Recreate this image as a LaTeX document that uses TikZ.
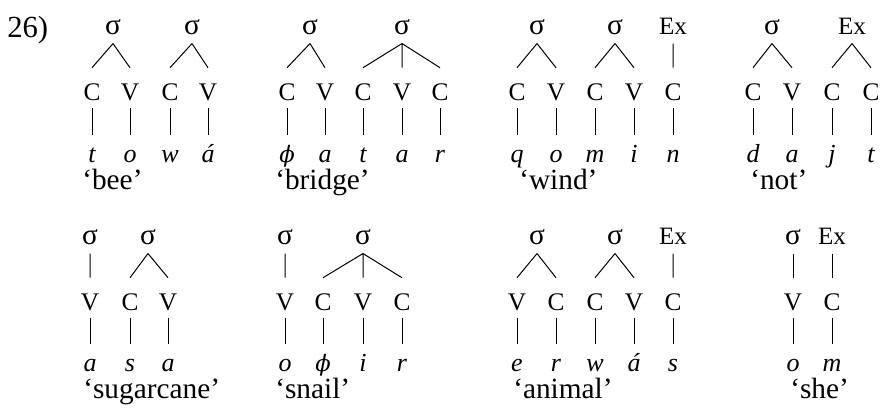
\documentclass[tikz,border=0pt]{standalone}
\usepackage{amsmath}
\usepackage{fontspec}
\setmainfont{Liberation Serif}
\newfontfamily\phifont{DejaVu Serif}

\newcommand{\syl}{{\fontsize{22}{24}\selectfont σ}}
\newcommand{\phiseg}{{\phifont\fontsize{17}{20}\selectfont ϕ}}

\tikzset{
  tier/.style={inner sep=0pt, minimum height=25.9pt, text height=12.4pt, text depth=0pt, font=\fontsize{18.75}{20}\selectfont},
  skel/.style={inner sep=0pt, minimum height=30pt, text height=18pt, text depth=0pt, font=\fontsize{19}{20}\selectfont},
  seg/.style={anchor=base, inner sep=0pt, text height=13.5pt, text depth=3.5pt, font=\fontsize{19.5}{20}\selectfont\itshape},
  gloss/.style={anchor=base west, inner sep=0pt, font=\fontsize{22}{24}\selectfont},
  exnum/.style={anchor=base west, inner sep=0pt, font=\fontsize{23}{24}\selectfont},
  assoc/.style={line width=0.75pt},
  tolink/.style={assoc, shorten >=6.75pt}
}

\begin{document}
\begin{tikzpicture}[x=0.75pt,y=0.75pt,yscale=-1,xscale=1]
  \useasboundingbox (0,0) rectangle (880,407);

  % Example number
  \node[exnum] (num) at (7,37) {26)};

  % 'bee'
  \node[tier] (bee-s1) at (113,26) {\syl};
  \node[tier] (bee-s2) at (192,26) {\syl};
  \node[skel] (bee-k1) at (92,88) {C};
  \node[skel] (bee-k2) at (130,88) {V};
  \node[skel] (bee-k3) at (170,88) {C};
  \node[skel] (bee-k4) at (208,88) {V};
  \node[seg] (bee-m1) at (92,162) {t};
  \node[seg] (bee-m2) at (130,162) {o};
  \node[seg] (bee-m3) at (170,162) {w};
  \node[seg] (bee-m4) at (208,162) {á};
  \node[gloss] (bee-g) at (82,189) {‘bee’};
  \draw[assoc] (bee-s1.south) -- (bee-k1.north) (bee-s1.south) -- (bee-k2.north)
    (bee-s2.south) -- (bee-k3.north) (bee-s2.south) -- (bee-k4.north);
  \foreach \i in {1,...,4} \draw[tolink] (bee-k\i) -- (bee-m\i);

  % 'bridge'
  \node[tier] (bri-s1) at (310,26) {\syl};
  \node[tier] (bri-s2) at (402,26) {\syl};
  \node[skel] (bri-k1) at (287,88) {C};
  \node[skel] (bri-k2) at (325,88) {V};
  \node[skel] (bri-k3) at (363,88) {C};
  \node[skel] (bri-k4) at (402,88) {V};
  \node[skel] (bri-k5) at (440,88) {C};
  \node[seg] (bri-m1) at (287,162) {\phiseg};
  \node[seg] (bri-m2) at (325,162) {a};
  \node[seg] (bri-m3) at (363,162) {t};
  \node[seg] (bri-m4) at (402,162) {a};
  \node[seg] (bri-m5) at (440,162) {r};
  \node[gloss] (bri-g) at (275,189) {‘bridge’};
  \draw[assoc] (bri-s1.south) -- (bri-k1.north) (bri-s1.south) -- (bri-k2.north)
    (bri-s2.south) -- (bri-k3.north) (bri-s2) -- (bri-k4) (bri-s2.south) -- (bri-k5.north);
  \foreach \i in {1,...,5} \draw[tolink] (bri-k\i) -- (bri-m\i);

  % 'wind'
  \node[tier] (win-s1) at (537,26) {\syl};
  \node[tier] (win-s2) at (615,26) {\syl};
  \node[tier] (win-x) at (673,26) {Ex};
  \node[skel] (win-k1) at (517,88) {C};
  \node[skel] (win-k2) at (556,88) {V};
  \node[skel] (win-k3) at (595,88) {C};
  \node[skel] (win-k4) at (634,88) {V};
  \node[skel] (win-k5) at (673,88) {C};
  \node[seg] (win-m1) at (517,162) {q};
  \node[seg] (win-m2) at (556,162) {o};
  \node[seg] (win-m3) at (595,162) {m};
  \node[seg] (win-m4) at (634,162) {i};
  \node[seg] (win-m5) at (673,162) {n};
  \node[gloss] (win-g) at (519,189) {‘wind’};
  \draw[assoc] (win-s1.south) -- (win-k1.north) (win-s1.south) -- (win-k2.north)
    (win-s2.south) -- (win-k3.north) (win-s2.south) -- (win-k4.north) (win-x) -- (win-k5);
  \foreach \i in {1,...,5} \draw[tolink] (win-k\i) -- (win-m\i);

  % 'not'
  \node[tier] (not-s1) at (772,26) {\syl};
  \node[tier] (not-x) at (852,26) {Ex};
  \node[skel] (not-k1) at (753,88) {C};
  \node[skel] (not-k2) at (792,88) {V};
  \node[skel] (not-k3) at (832,88) {C};
  \node[skel] (not-k4) at (871,88) {C};
  \node[seg] (not-m1) at (753,162) {d};
  \node[seg] (not-m2) at (792,162) {a};
  \node[seg] (not-m3) at (832,162) {j};
  \node[seg] (not-m4) at (871,162) {t};
  \node[gloss] (not-g) at (750,189) {‘not’};
  \draw[assoc] (not-s1.south) -- (not-k1.north) (not-s1.south) -- (not-k2.north)
    (not-x.south) -- (not-k3.north) (not-x.south) -- (not-k4.north);
  \foreach \i in {1,...,4} \draw[tolink] (not-k\i) -- (not-m\i);

  % 'sugarcane'
  \node[tier] (sug-s1) at (90,236) {\syl};
  \node[tier] (sug-s2) at (148,236) {\syl};
  \node[skel] (sug-k1) at (90,298) {V};
  \node[skel] (sug-k2) at (130,298) {C};
  \node[skel] (sug-k3) at (168,298) {V};
  \node[seg] (sug-m1) at (90,371) {a};
  \node[seg] (sug-m2) at (130,371) {s};
  \node[seg] (sug-m3) at (168,371) {a};
  \node[gloss] (sug-g) at (83,398) {‘sugarcane’};
  \draw[assoc] (sug-s1) -- (sug-k1)
    (sug-s2.south) -- (sug-k2.north) (sug-s2.south) -- (sug-k3.north);
  \foreach \i in {1,...,3} \draw[tolink] (sug-k\i) -- (sug-m\i);

  % 'snail'
  \node[tier] (sna-s1) at (285,236) {\syl};
  \node[tier] (sna-s2) at (363,236) {\syl};
  \node[skel] (sna-k1) at (285,298) {V};
  \node[skel] (sna-k2) at (323,298) {C};
  \node[skel] (sna-k3) at (363,298) {V};
  \node[skel] (sna-k4) at (402,298) {C};
  \node[seg] (sna-m1) at (285,371) {o};
  \node[seg] (sna-m2) at (323,371) {\phiseg};
  \node[seg] (sna-m3) at (363,371) {i};
  \node[seg] (sna-m4) at (402,371) {r};
  \node[gloss] (sna-g) at (275,398) {‘snail’};
  \draw[assoc] (sna-s1) -- (sna-k1)
    (sna-s2.south) -- (sna-k2.north) (sna-s2) -- (sna-k3) (sna-s2.south) -- (sna-k4.north);
  \foreach \i in {1,...,4} \draw[tolink] (sna-k\i) -- (sna-m\i);

  % 'animal'
  \node[tier] (ani-s1) at (537,236) {\syl};
  \node[tier] (ani-s2) at (615,236) {\syl};
  \node[tier] (ani-x) at (673,236) {Ex};
  \node[skel] (ani-k1) at (517,298) {V};
  \node[skel] (ani-k2) at (556,298) {C};
  \node[skel] (ani-k3) at (595,298) {C};
  \node[skel] (ani-k4) at (634,298) {V};
  \node[skel] (ani-k5) at (673,298) {C};
  \node[seg] (ani-m1) at (517,371) {e};
  \node[seg] (ani-m2) at (556,371) {r};
  \node[seg] (ani-m3) at (595,371) {w};
  \node[seg] (ani-m4) at (634,371) {á};
  \node[seg] (ani-m5) at (673,371) {s};
  \node[gloss] (ani-g) at (513,398) {‘animal’};
  \draw[assoc] (ani-s1.south) -- (ani-k1.north) (ani-s1.south) -- (ani-k2.north)
    (ani-s2.south) -- (ani-k3.north) (ani-s2.south) -- (ani-k4.north) (ani-x) -- (ani-k5);
  \foreach \i in {1,...,5} \draw[tolink] (ani-k\i) -- (ani-m\i);

  % 'she'
  \node[tier] (she-s1) at (793,236) {\syl};
  \node[tier] (she-x) at (832,236) {Ex};
  \node[skel] (she-k1) at (793,298) {V};
  \node[skel] (she-k2) at (832,298) {C};
  \node[seg] (she-m1) at (793,371) {o};
  \node[seg] (she-m2) at (832,371) {m};
  \node[gloss] (she-g) at (790,398) {‘she’};
  \draw[assoc] (she-s1) -- (she-k1) (she-x) -- (she-k2);
  \foreach \i in {1,2} \draw[tolink] (she-k\i) -- (she-m\i);

\end{tikzpicture}
\end{document}
